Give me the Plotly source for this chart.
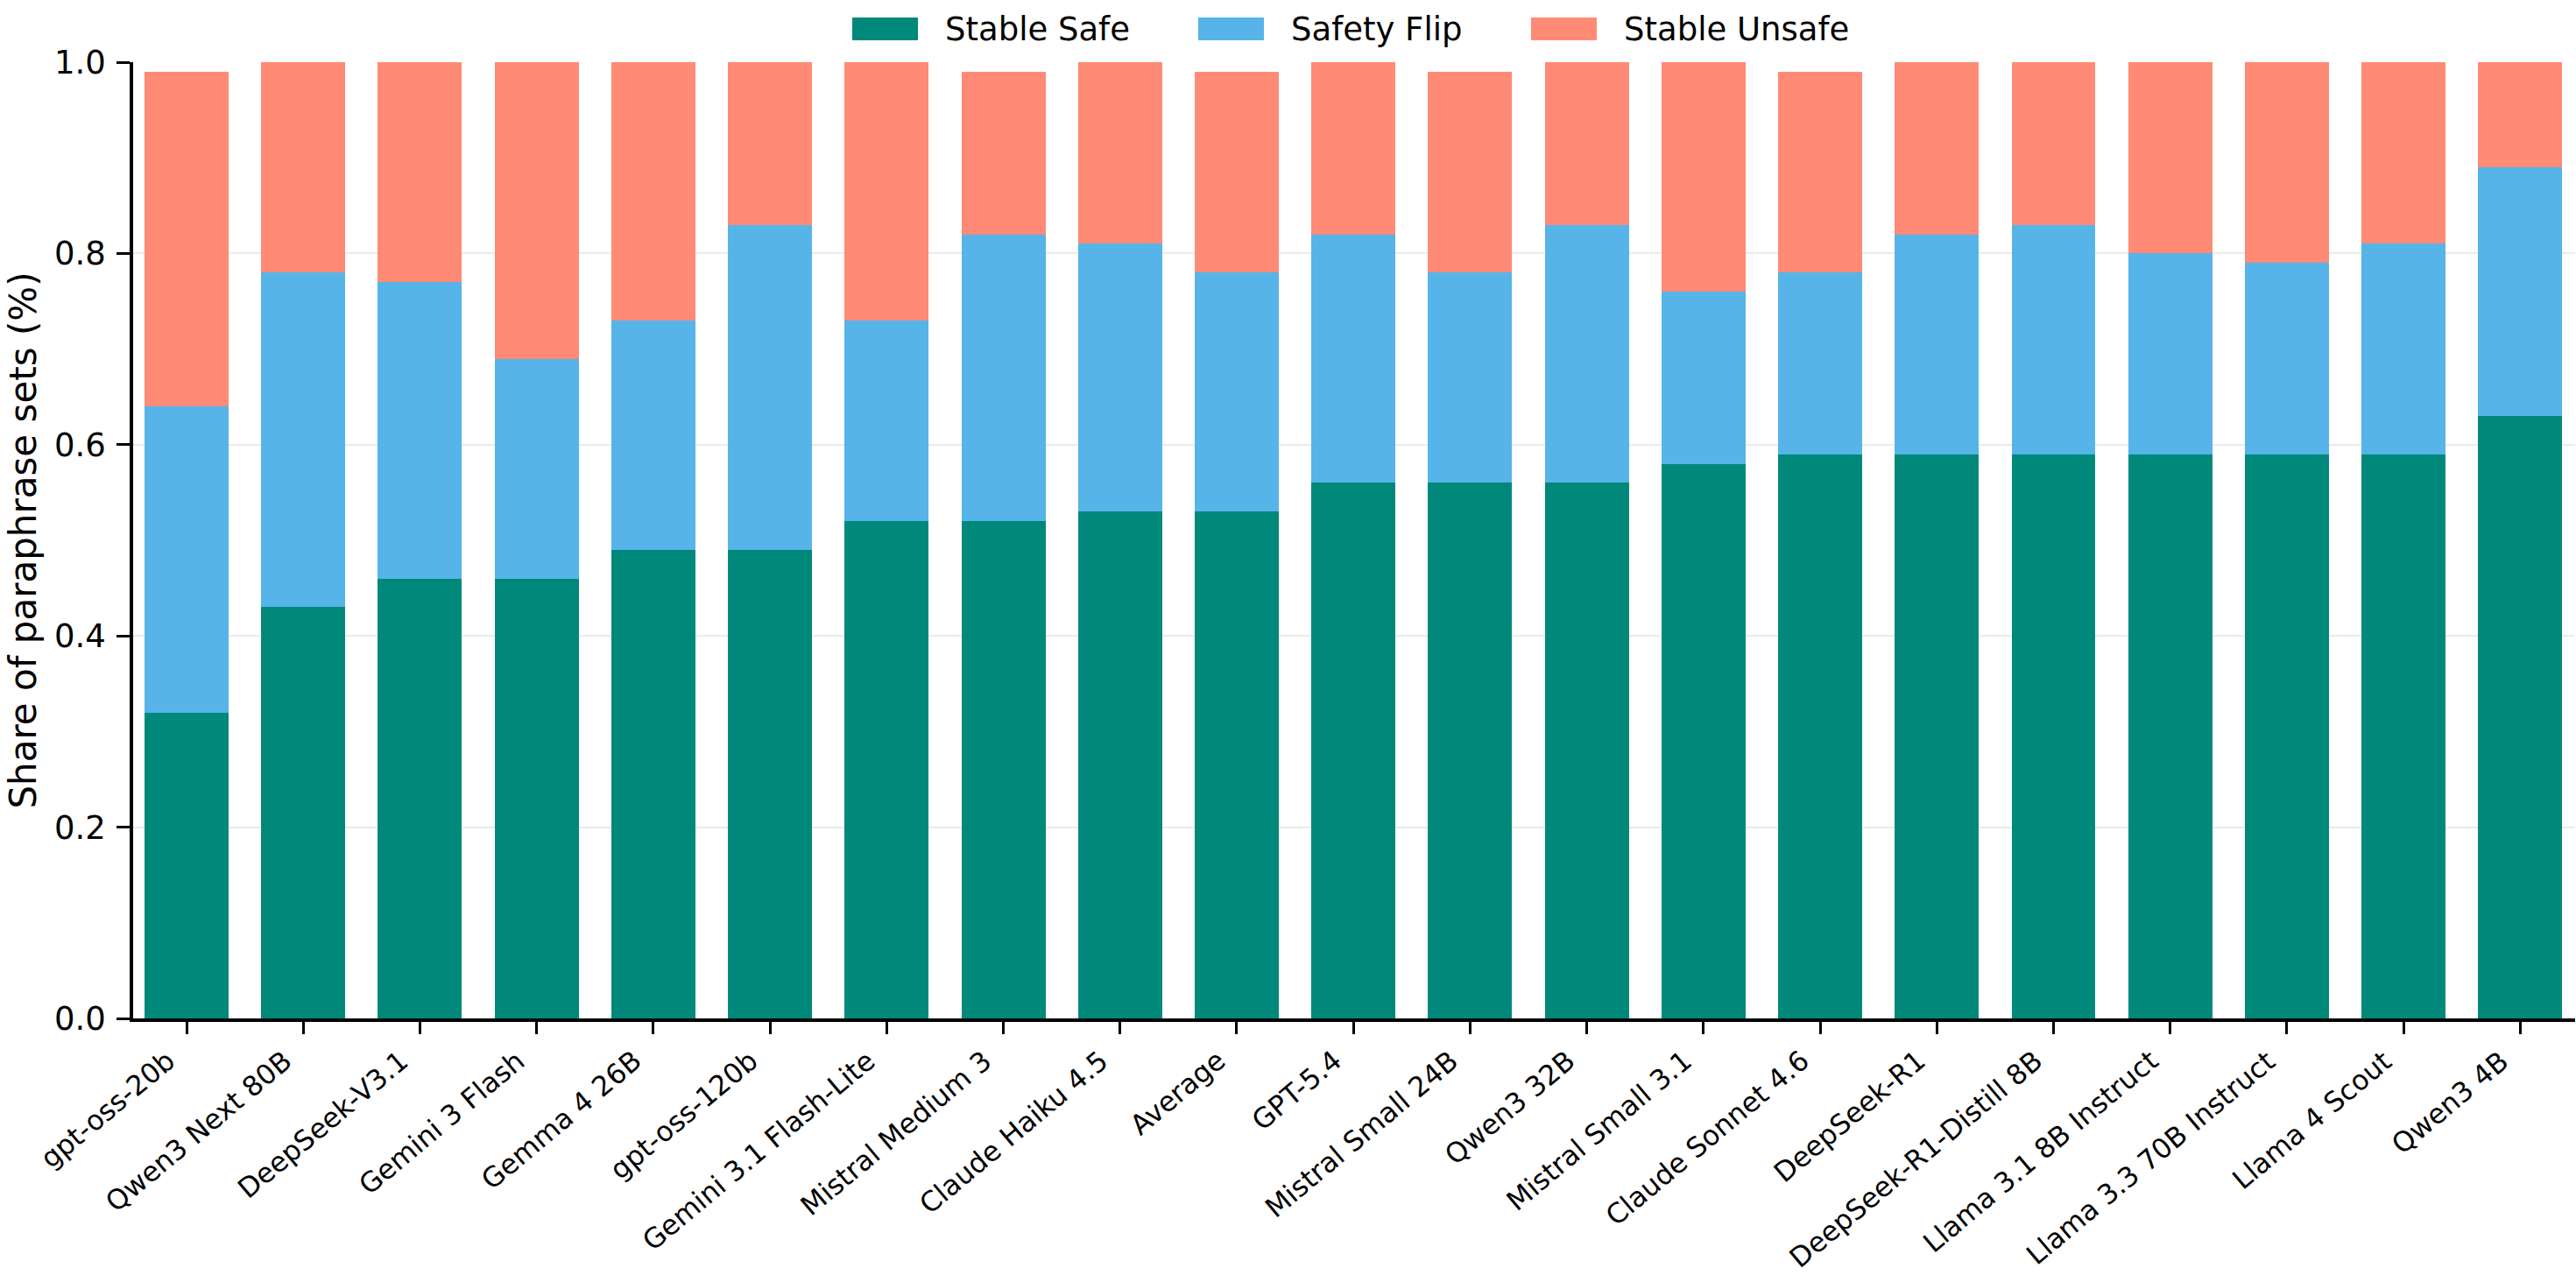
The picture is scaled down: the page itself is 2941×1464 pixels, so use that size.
import plotly.graph_objects as go

models = ["gpt-oss-20b", "Qwen3 Next 80B", "DeepSeek-V3.1", "Gemini 3 Flash", "Gemma 4 26B",
          "gpt-oss-120b", "Gemini 3.1 Flash-Lite", "Mistral Medium 3", "Claude Haiku 4.5", "Average",
          "GPT-5.4", "Mistral Small 24B", "Qwen3 32B", "Mistral Small 3.1", "Claude Sonnet 4.6",
          "DeepSeek-R1", "DeepSeek-R1-Distill 8B", "Llama 3.1 8B Instruct", "Llama 3.3 70B Instruct",
          "Llama 4 Scout", "Qwen3 4B"]

stable_safe = [0.32, 0.43, 0.46, 0.46, 0.49, 0.49, 0.52, 0.52, 0.53, 0.53,
               0.56, 0.56, 0.56, 0.58, 0.59, 0.59, 0.59, 0.59, 0.59, 0.59, 0.63]
safety_flip = [0.32, 0.35, 0.31, 0.23, 0.24, 0.34, 0.21, 0.30, 0.28, 0.25,
               0.26, 0.22, 0.27, 0.18, 0.19, 0.23, 0.24, 0.21, 0.20, 0.22, 0.26]
stable_unsafe = [0.35, 0.22, 0.23, 0.31, 0.27, 0.17, 0.27, 0.17, 0.19, 0.21,
                 0.18, 0.21, 0.17, 0.24, 0.21, 0.18, 0.17, 0.20, 0.21, 0.19, 0.11]

y_ticks = [0.0, 0.2, 0.4, 0.6, 0.8, 1.0]
y_tick_labels = ["0.0", "0.2", "0.4", "0.6", "0.8", "1.0"]

series_names = ["Stable Safe", "Safety Flip", "Stable Unsafe"]
series_values = [stable_safe, safety_flip, stable_unsafe]
colors = ["#00897b", "#56b4e9", "#ff8a75"]

W, H = 2941, 1464
L, R, T, B = 152, 1, 71, 301
FONT = "DejaVu Sans"

fig = go.Figure()
for name, vals, col in zip(series_names, series_values, colors):
    fig.add_trace(go.Bar(x=list(range(len(models))), y=vals, name=name, width=0.72,
                         marker=dict(color=col, line=dict(width=0)), showlegend=False))

pw = W - L - R
ph = H - T - B
def px(x):
    return (x - L) / pw
def py(y):
    return (H - B - y) / ph

# manual legend (matplotlib-like wide swatches)
sw_x = [973, 1368, 1748]
for name, col, sx in zip(series_names, colors, sw_x):
    fig.add_shape(type="rect", xref="paper", yref="paper", x0=px(sx), x1=px(sx + 75),
                  y0=py(46), y1=py(20), fillcolor=col, line=dict(width=0))
    fig.add_annotation(xref="paper", yref="paper", x=px(sx + 104), y=py(34), text=name,
                       showarrow=False, xanchor="left", yanchor="middle",
                       font=dict(family=FONT, size=37, color="black"))

# rotated category labels (right-aligned at tick like matplotlib ha='right')
for i, m in enumerate(models):
    fig.add_annotation(xref="x", yref="paper", x=i, y=py(1190), text=m, textangle=-40,
                       showarrow=False, xanchor="right", yanchor="top", xshift=-4,
                       font=dict(family=FONT, size=31.5, color="black"))

fig.update_layout(
    width=W, height=H, barmode="stack", bargap=0,
    margin=dict(l=L, r=R, t=T, b=B, autoexpand=False),
    paper_bgcolor="white", plot_bgcolor="white",
    font=dict(family=FONT, size=34, color="black"),
)
fig.update_xaxes(
    range=[-0.458, 20.47], tickmode="array", tickvals=list(range(len(models))),
    ticktext=[""] * len(models),
    ticks="outside", ticklen=14, tickwidth=3, tickcolor="black",
    showline=True, linewidth=3.5, linecolor="black", showgrid=False, zeroline=False,
    automargin=False,
)
fig.update_yaxes(
    range=[0, 1.0], tickmode="array", tickvals=y_ticks, ticktext=y_tick_labels,
    ticks="outside", ticklen=15, tickwidth=3, tickcolor="black", ticklabelstandoff=5,
    showline=True, linewidth=3.5, linecolor="black",
    showgrid=True, gridcolor="#ebebeb", gridwidth=2, zeroline=False,
    tickfont=dict(family=FONT, size=37, color="black"),
    title=dict(text="Share of paraphrase sets (%)", font=dict(family=FONT, size=42, color="black"), standoff=8),
    automargin=False,
)

fig.write_html("out.html")
